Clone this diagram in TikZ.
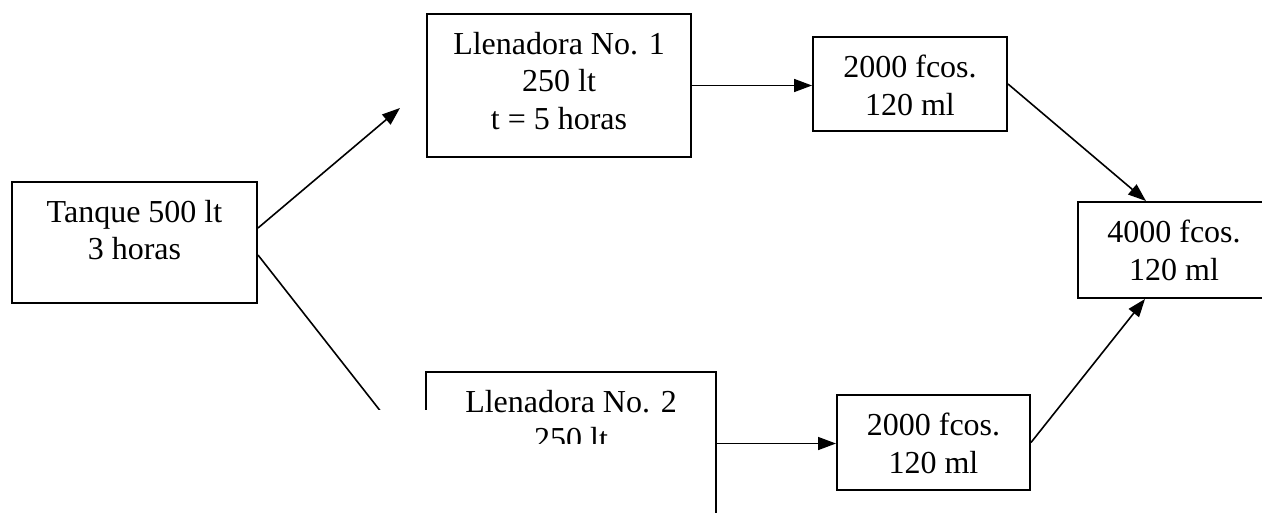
\documentclass[tikz,border=0pt]{standalone}
\usepackage{fontspec}
\setmainfont{Liberation Serif}
\usetikzlibrary{arrows.meta,calc}

% Text block of a process box: fixed width and height, lines centred, set from the top
\newcommand\celltext[3]{\parbox[c][#2pt][t]{#1pt}{\centering\vspace*{18pt}#3}}

\tikzset{
  box/.style={draw, line width=2pt, inner sep=0pt, anchor=north west},
  flow/.style={line width=1.6pt, -{Triangle[length=18pt,width=13pt]}},
}

\begin{document}
\begin{tikzpicture}[x=1pt, y=-1pt, font=\fontsize{32}{37.5}\selectfont]
  \clip (0,0) rectangle (1262,512);

  % process boxes
  \node[box] (tank)  at (11,181)  {\celltext{245}{121}{Tanque 500 lt\\3 horas}};
  \node[box] (fill1) at (426,13)  {\celltext{264}{143}{Llenadora No. 1\\250 lt\\t = 5 horas}};
  \node[box] (fill2) at (425,371) {\celltext{290}{143}{Llenadora No. 2\\250 lt}};
  \node[box] (c1)    at (812,36)  {\celltext{194}{94}{2000 fcos.\\120 ml}};
  \node[box] (c2)    at (836,394) {\celltext{193}{95}{2000 fcos.\\120 ml}};
  \node[box] (total) at (1077,201) {\celltext{192}{96}{4000 fcos.\\120 ml}};

  % free ends of the two feed lines leaving the tank
  \coordinate (f1tip) at (400,108);
  \coordinate (f2tip) at (400,436);

  % connectors
  \draw[flow] ($(tank.north east)+(0,47)$) -- (f1tip);
  \draw[flow] ($(tank.north east)+(0,74)$) -- (f2tip);
  \draw[flow] (fill1.east) -- (fill1.east -| c1.west);
  \draw[flow] (fill2.east) -- (fill2.east -| c2.west);
  \draw[flow] (c1.east) -- ($(total.north west)+(69,0)$);
  \draw[flow] (c2.east) -- ($(total.south west)+(68,0)$);

  % lower left part of the sheet left blank
  \fill[white] (330,410) rectangle (440,520);
  \fill[white] (330,444) rectangle (712,520);
\end{tikzpicture}
\end{document}
